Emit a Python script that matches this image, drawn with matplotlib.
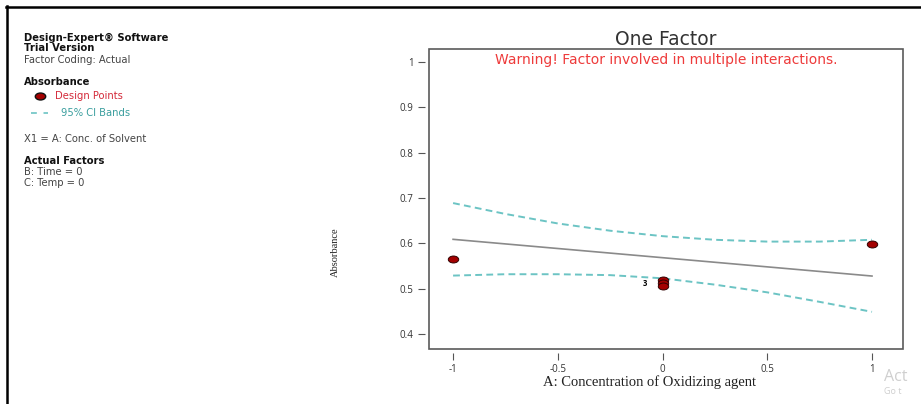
import matplotlib
matplotlib.use("Agg")
import matplotlib.pyplot as plt
import matplotlib.path as mpath
from matplotlib.patches import Rectangle
from matplotlib.lines import Line2D
from matplotlib.transforms import Affine2D

# design points (A coded, absorbance)
pts_x = [-1, 0, 0, 0, 1]
pts_y = [0.566, 0.519, 0.512, 0.505, 0.598]

# fitted line
fit_x = [-1, 1]
fit_y = [0.609, 0.528]

# 95% confidence bands
band_x = [-1, -0.75, -0.5, -0.25, 0, 0.25, 0.5, 0.75, 1]
band_hi = [0.689, 0.665, 0.644, 0.628, 0.616, 0.608, 0.604, 0.604, 0.608]
band_lo = [0.529, 0.532, 0.532, 0.530, 0.523, 0.509, 0.492, 0.471, 0.449]

xticks = [-1, -0.5, 0, 0.5, 1]
xticklabels = ['-1', '-0.5', '0', '0.5', '1']
yticks = [0.4, 0.5, 0.6, 0.7, 0.8, 0.9, 1.0]
yticklabels = ['0.4', '0.5', '0.6', '0.7', '0.8', '0.9', '1']

W, H = 921, 404
SANS = ['Open Sans', 'DejaVu Sans']
WIDE = ['DejaVu Sans']
SERIF = ['Liberation Serif', 'DejaVu Serif']
TEAL = '#6cc4c4'
DARKRED = '#a30000'

def fx(px):
    return px / W

def fy(py):
    return 1 - py / H

ellipse = mpath.Path.unit_circle().transformed(Affine2D().scale(1.5, 1.0))

def main():
    plt.rcParams['font.family'] = SANS
    fig = plt.figure(figsize=(W / 100, H / 100), dpi=100)
    ax = fig.add_axes([fx(429), fy(349), fx(903) - fx(429), fy(49) - fy(349)])

    ax.plot(band_x, band_hi, color=TEAL, lw=1.4, dashes=(3.5, 2.2))
    ax.plot(band_x, band_lo, color=TEAL, lw=1.4, dashes=(3.5, 2.2))
    ax.plot(fit_x, fit_y, color='#8a8a8a', lw=1.2)
    ax.plot(pts_x, pts_y, ls='none', marker=ellipse, markersize=7.5,
            markerfacecolor=DARKRED, markeredgecolor='#300000', markeredgewidth=0.7,
            zorder=5)
    ax.annotate('3', xy=(0, 0.512), xytext=(-13, 0), textcoords='offset points',
                ha='center', va='center', fontsize=5.5, fontweight='bold')

    ax.set_xlim(-1.115, 1.148)
    ax.set_ylim(0.367, 1.029)
    ax.set_xticks(xticks)
    ax.set_xticklabels(xticklabels, family=WIDE)
    ax.set_yticks(yticks)
    ax.set_yticklabels(yticklabels, family=WIDE)
    ax.tick_params(length=5, width=0.8, color='#555555', labelsize=7,
                   labelcolor='#333333', pad=3)

    for side in ['top', 'right', 'left', 'bottom']:
        ax.spines[side].set_visible(False)
    ax.spines['left'].set_position(('outward', 3))
    ax.spines['bottom'].set_position(('outward', 3))
    ax.add_patch(Rectangle((0, 0), 1, 1, transform=ax.transAxes, fill=False,
                           edgecolor='#5a5a5a', lw=1.2, clip_on=False, zorder=6))

    ax.set_xlabel('A: Concentration of Oxidizing agent', family=SERIF,
                  fontsize=10.5, color='#222222')
    ax.xaxis.set_label_coords(0.466, -0.088)
    ax.set_ylabel('Absorbance', family=SERIF, fontsize=7.5, color='#222222')
    ax.yaxis.set_label_coords(-0.188, 0.323)
    ax.set_title('One Factor', family=WIDE, fontsize=13.5, color='#333333', pad=2)
    ax.text(0.5, 0.963, 'Warning! Factor involved in multiple interactions.',
            transform=ax.transAxes, ha='center', va='center', fontsize=10,
            family=WIDE, color='#ee3b3b')

    # side panel
    def side(x, y, s, **kw):
        kw.setdefault('fontsize', 7.2)
        kw.setdefault('color', '#444444')
        fig.text(fx(x), fy(y), s, ha='left', va='center', family=WIDE, **kw)

    side(24, 38, 'Design-Expert® Software', fontweight='bold', color='#111111')
    side(24, 48, 'Trial Version', fontweight='bold', color='#111111')
    side(24, 60, 'Factor Coding: Actual')
    side(24, 82, 'Absorbance', fontweight='bold', color='#111111')
    fig.add_artist(Line2D([fx(40)], [fy(96)], ls='none', marker=ellipse,
                          markersize=7.5, markerfacecolor=DARKRED,
                          markeredgecolor='#111111', markeredgewidth=1.0))
    side(55, 96, 'Design Points', color='#d42a3a')
    fig.add_artist(Line2D([fx(31), fx(48)], [fy(113), fy(113)], color=TEAL,
                          lw=1.2, dashes=(3.5, 4)))
    side(61, 113, '95% CI Bands', color='#3a9e9e')
    side(24, 139, 'X1 = A: Conc. of Solvent')
    side(24, 161, 'Actual Factors', fontweight='bold', color='#111111')
    side(24, 172, 'B: Time = 0')
    side(24, 183, 'C: Temp = 0')

    # frame lines along the top and left edges
    fig.add_artist(Line2D([fx(6), 1], [fy(7), fy(7)], color='black', lw=1.8))
    fig.add_artist(Line2D([fx(7), fx(7)], [fy(6), 0], color='black', lw=1.8))

    fig.text(fx(884), fy(377), 'Act', fontsize=11.5,
             color='#cfcfcf', ha='left', va='center')
    fig.text(fx(884), fy(392), 'Go t', fontsize=6.5, color='#cfcfcf',
             ha='left', va='center')

    fig.savefig('out.png', dpi=100)

if __name__ == "__main__":
    main()
